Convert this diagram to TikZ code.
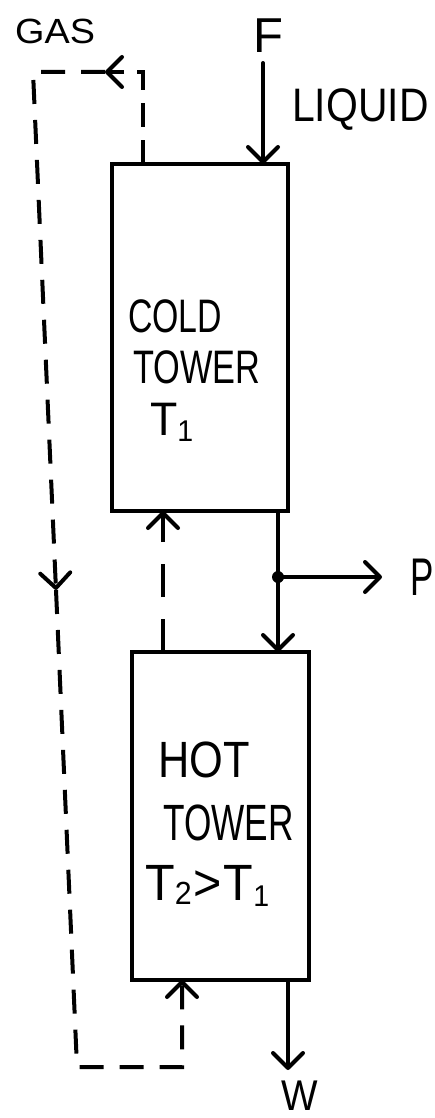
\documentclass[tikz,border=0pt]{standalone}
\usepackage{fontspec}
\setmainfont{Liberation Sans}
\usepackage{graphicx}
\usetikzlibrary{arrows.meta}
\newcommand\hw[2]{\scalebox{#1}[1]{#2}}
\newcommand\fs[1]{\fontsize{#1}{#1}\selectfont}
\begin{document}
\begin{tikzpicture}[x=1pt,y=-1pt,
  barb/.tip={Straight Barb[length=15pt,width=30pt,line cap=round,line join=round]},
  flow/.style={line width=4pt, line cap=round, -barb},
  gasline/.style={line width=4pt, dash pattern=on 24pt off 16pt},
  tower/.style={draw, line width=4pt, rectangle, inner sep=0pt, outer sep=0pt},
  lbl/.style={inner sep=0pt, anchor=base west}]
\useasboundingbox (0,0) rectangle (434,1118);
% towers
\node[tower, minimum width=176pt, minimum height=347pt] (cold) at (200,337.5) {};
\node[tower, minimum width=177pt, minimum height=328pt] (hot) at (220.5,816) {};
% tower texts
\node[lbl, font=\fs{47}] (coldA) at (128,332) {\hw{0.72}{COLD}};
\node[lbl, font=\fs{47}] (coldB) at (133,383) {\hw{0.73}{TOWER}};
\node[lbl, font=\fs{47}] (coldC) at (150,435) {\hw{0.95}{T\raisebox{-6pt}{\fs{30}1}}};
\node[lbl, font=\fs{51}] (hotA) at (158,777) {\hw{0.85}{HOT}};
\node[lbl, font=\fs{51}] (hotB) at (163,840) {\hw{0.69}{TOWER}};
\node[lbl, font=\fs{51}] (hotC) at (145,900) {\hw{0.95}{T\raisebox{-4pt}{\fs{32}2}\kern2pt>\kern2pt T\raisebox{-6pt}{\fs{30}1}}};
% labels
\node[lbl, font=\fs{35}] (gas) at (15,44) {\hw{1.08}{GAS}};
\node[lbl, font=\fs{49}] (F) at (253,53) {F};
\node[lbl, font=\fs{47}] (liquid) at (292,122) {\hw{0.87}{LIQUID}};
\node[lbl, font=\fs{53}] (P) at (410,595) {\hw{0.66}{P}};
\node[lbl, font=\fs{43}] (W) at (281,1110) {\hw{0.9}{W}};
% liquid flow
\coordinate (fstart) at (263,63);
\draw[flow] (fstart) -- (fstart |- cold.north);
\node[circle, fill, inner sep=0pt, minimum size=12pt] (junc) at (278,577) {};
\draw[flow] (cold.south -| junc) -- (hot.north -| junc);
\coordinate (pend) at (382,577);
\draw[flow] (junc.center) -- (pend);
\coordinate (wx) at (288,1070);
\draw[flow] (hot.south -| wx) -- (wx);
% gas flow
\coordinate (midgas) at (163,580);
\draw[gasline, dash pattern=on 33pt off 22pt, -barb] (hot.north -| midgas) -- (cold.south -| midgas);
\coordinate (topgas) at (143,72);
\coordinate (gasarrowpt) at (105,72);
\coordinate (gasTL) at (33,72);
\coordinate (leftarrow) at (56,590);
\coordinate (gasBL) at (77,1067);
\coordinate (gasBR) at (182,1067);
\draw[gasline, dash pattern=on 24pt off 13pt, -barb] (cold.north -| topgas) -- (topgas) -- (gasarrowpt);
\draw[gasline, -barb] (gasarrowpt) -- (gasTL) -- (leftarrow);
\draw[gasline, -barb] (leftarrow) -- (gasBL) -- (gasBR) -- (hot.south -| gasBR);
\end{tikzpicture}
\end{document}
